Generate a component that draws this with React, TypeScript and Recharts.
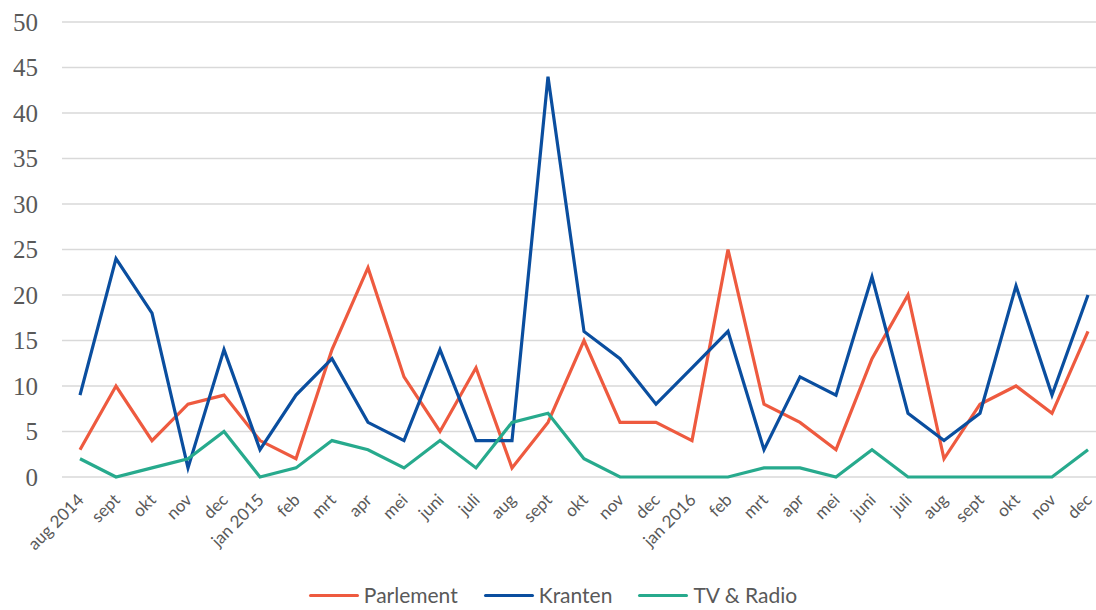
import React from 'react';
import { LineChart, Line, XAxis, YAxis, CartesianGrid, Legend } from 'recharts';

const months = [
  'aug 2014', 'sept', 'okt', 'nov', 'dec', 'jan 2015', 'feb', 'mrt', 'apr', 'mei', 'juni', 'juli',
  'aug', 'sept', 'okt', 'nov', 'dec', 'jan 2016', 'feb', 'mrt', 'apr', 'mei', 'juni', 'juli',
  'aug', 'sept', 'okt', 'nov', 'dec',
];
const parlement = [3, 10, 4, 8, 9, 4, 2, 14, 23, 11, 5, 12, 1, 6, 15, 6, 6, 4, 25, 8, 6, 3, 13, 20, 2, 8, 10, 7, 16];
const kranten = [9, 24, 18, 1, 14, 3, 9, 13, 6, 4, 14, 4, 4, 44, 16, 13, 8, 12, 16, 3, 11, 9, 22, 7, 4, 7, 21, 9, 20];
const tvRadio = [2, 0, 1, 2, 5, 0, 1, 4, 3, 1, 4, 1, 6, 7, 2, 0, 0, 0, 0, 1, 1, 0, 3, 0, 0, 0, 0, 0, 3];
const yTicks = [0, 5, 10, 15, 20, 25, 30, 35, 40, 45, 50];

const series = [
  { key: 'Parlement', color: '#EE5A3F' },
  { key: 'Kranten', color: '#0A4E9F' },
  { key: 'TV & Radio', color: '#27AA8D' },
];

const data = months.map((m, i) => ({
  idx: i,
  month: m,
  Parlement: parlement[i],
  Kranten: kranten[i],
  'TV & Radio': tvRadio[i],
}));

const MonthTick = (props: any) => {
  const { x, y, payload } = props;
  return (
    <g transform={`translate(${x + 5},${y + 16})`}>
      <text
        textAnchor="end"
        transform="rotate(-45)"
        fill="#595959"
        fontSize={17}
        fontFamily="Lato, 'Open Sans', sans-serif"
      >
        {months[payload.value]}
      </text>
    </g>
  );
};

const LegendContent = () => (
  <div style={{ display: 'flex', justifyContent: 'center', alignItems: 'center', height: 18, lineHeight: '18px', fontFamily: "Lato, 'Open Sans', sans-serif", fontSize: 21, color: '#595959' }}>
    {series.map((s, i) => (
      <div key={s.key} style={{ display: 'flex', alignItems: 'center', marginRight: i < series.length - 1 ? 26 : 0 }}>
        <div style={{ width: 50, height: 3, background: s.color, borderRadius: 2, marginRight: 5 }} />
        <span>{s.key}</span>
      </div>
    ))}
  </div>
);

export default function App() {
  return (
    <div style={{ position: 'absolute', left: 0, top: 0, width: 1096, height: 610, overflow: 'hidden', background: '#fff' }}>
      <LineChart width={1106} height={610} data={data} margin={{ top: 22, right: 0, bottom: 0, left: 0 }}>
        <CartesianGrid vertical={false} stroke="#D9D9D9" strokeWidth={1.5} />
        <XAxis
          dataKey="idx"
          type="category"
          interval={0}
          axisLine={false}
          tickLine={false}
          padding={{ left: 18, right: 18 }}
          height={111}
          tick={<MonthTick />}
        />
        <YAxis
          domain={[0, 50]}
          ticks={yTicks}
          width={62}
          axisLine={false}
          tickLine={false}
          tickSize={6}
          tickMargin={18}
          tick={{ fill: '#595959', fontSize: 25, fontFamily: "'Liberation Serif', serif" }}
        />
        <Legend verticalAlign="bottom" height={22} wrapperStyle={{ bottom: 2 }} content={<LegendContent />} />
        {series.map((s) => (
          <Line
            key={s.key}
            type="linear"
            dataKey={s.key}
            stroke={s.color}
            strokeWidth={3.2}
            dot={false}
            activeDot={false}
            isAnimationActive={false}
          />
        ))}
      </LineChart>
    </div>
  );
}
